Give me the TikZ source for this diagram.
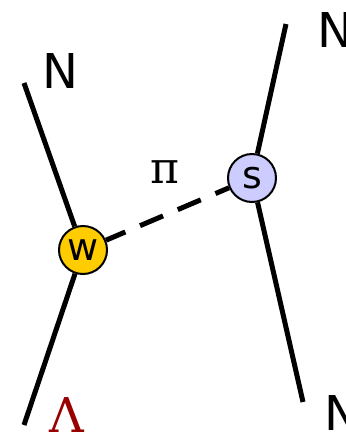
\documentclass[tikz,border=0pt]{standalone}
\usepackage{fontspec}
\setmainfont{DejaVu Sans}
\newfontfamily\seriffont{DejaVu Serif}
\definecolor{wgold}{RGB}{255,204,0}
\definecolor{slav}{RGB}{204,204,255}
\definecolor{lamred}{RGB}{153,0,0}

\begin{document}
\begin{tikzpicture}[x=1pt, y=-1pt,
	every node/.style={font=\fontsize{48}{48}\selectfont, inner sep=0pt},
	leg/.style={line width=5pt},
	vertex/.style={circle, draw, line width=2pt, minimum size=48pt, font=\fontsize{38}{38}\selectfont}]
	\useasboundingbox (0,0) rectangle (346,432);
	\node[vertex, fill=wgold] (w) at (83,250) {w};
	\node[vertex, fill=slav] (s) at (252,178) {s};
	\coordinate (nin) at (24,83);
	\coordinate (lamout) at (24,425);
	\coordinate (nin2) at (286,24);
	\coordinate (nout) at (303,402);
	\draw[leg] (nin) -- (w) -- (lamout);
	\draw[leg] (nin2) -- (s) -- (nout);
	\draw[leg, dash pattern=on 25pt off 16pt, dash phase=4pt] (w) -- (s);
	\node[anchor=base] (nlabel) at (60,88) {N};
	\node[anchor=base west] (n2label) at (317,47) {N};
	\node[anchor=base west] (n3label) at (324,430) {N};
	\node[anchor=base, text=lamred, font=\fontsize{48}{48}\seriffont] (lamlabel) at (67,432) {Λ};
	\node[anchor=base, font=\fontsize{44}{44}\seriffont] (pilabel) at (165,183) {π};
\end{tikzpicture}
\end{document}
